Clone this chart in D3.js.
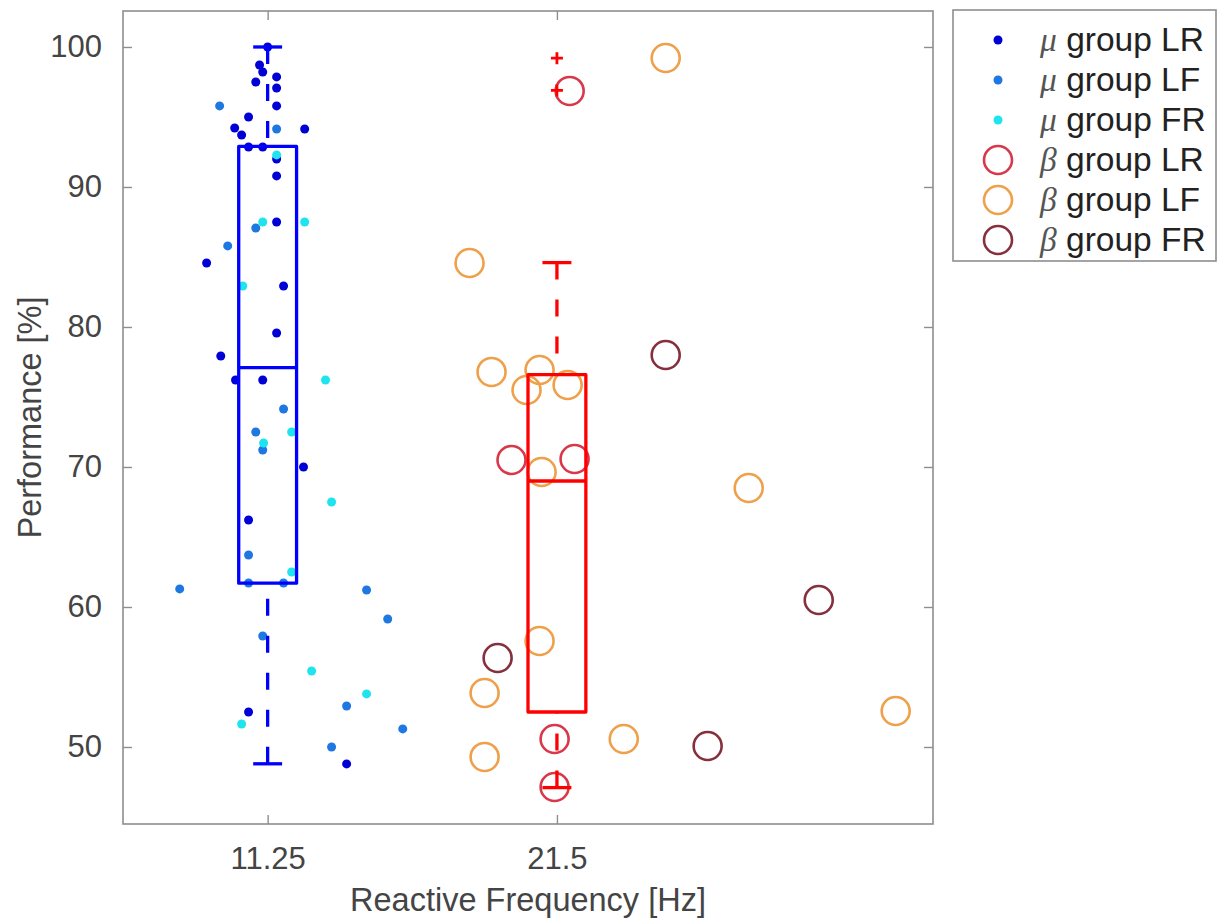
<!DOCTYPE html>
<html><head><meta charset="utf-8">
<script src="https://cdn.jsdelivr.net/npm/d3@7"></script>
<style>body{margin:0;background:#fff}</style>
</head><body><svg id="c" width="1226" height="918"></svg>
<script>
// ---------- data ----------
const categories = ["11.25", "21.5"];
const catPositions = [1, 2];
const yTicks = [50, 60, 70, 80, 90, 100];

// [x position in category units (jittered), performance %]
const muLR = [[1.0,100],[0.972,98.71],[0.983,98.21],[0.959,97.5],[1.031,97.86],[1.031,97.07],[1.031,95.79],
  [0.934,95.0],[0.886,94.21],[0.910,93.71],[1.128,94.14],[0.934,92.86],[0.983,92.86],[1.031,92.0],
  [1.031,90.79],[1.031,87.5],[0.789,84.57],[1.055,82.93],[1.031,79.57],[0.838,77.93],[0.889,76.21],
  [0.983,76.21],[1.124,70.0],[0.934,66.21],[0.934,52.5],[1.273,48.79]];
const muLF = [[0.834,95.79],[1.031,94.14],[0.862,85.79],[0.959,87.07],[1.055,74.14],[0.959,72.5],
  [0.983,71.21],[0.934,63.71],[0.934,61.71],[1.055,61.71],[0.696,61.29],[1.342,61.21],[1.415,59.14],
  [0.983,57.93],[1.273,52.93],[1.467,51.29],[1.221,50.0]];
const muFR = [[0.983,87.5],[1.128,87.5],[1.031,92.29],[0.914,82.93],[1.200,76.21],[1.083,72.5],
  [0.986,71.71],[1.221,67.5],[1.083,62.5],[1.152,55.43],[1.342,53.79],[0.910,51.64]];
const betaLR = [[2.044,96.86],[1.843,70.5],[2.061,70.57],[1.992,50.57],[1.992,47.14]];
const betaLF = [[2.376,99.21],[1.698,84.57],[1.774,76.79],[1.940,76.93],[2.037,75.86],[1.895,75.5],
  [1.947,69.64],[2.663,68.5],[1.940,57.57],[1.750,53.86],[3.171,52.57],[2.231,50.57],[1.750,49.29]];
const betaFR = [[2.376,78.0],[2.905,60.5],[1.795,56.36],[2.521,50.07]];

// box statistics: [lower whisker, q1, median, q3, upper whisker]
const boxMu = [48.8, 61.7, 77.1, 92.9, 100];
const boxBeta = [47.1, 52.5, 69.0, 76.6, 84.6];
const outliersMu = [];
const outliersBeta = [99.2, 96.9];

const legendSymbols = ["\u03bc", "\u03bc", "\u03bc", "\u03b2", "\u03b2", "\u03b2"];
const legendLabels = [" group LR", " group LF", " group FR", " group LR", " group LF", " group FR"];

// ---------- layout ----------
const M = {left: 123, right: 933, top: 11, bottom: 824};
const svg = d3.select("#c");
const x = d3.scaleLinear().domain([0.5, 3.3]).range([M.left, M.right]);
const y = d3.scaleLinear().domain([44.5, 102.57]).range([M.bottom, M.top]);

const axisColor = "#8e8e8e", labelColor = "#444";
const font = "'Liberation Sans', Arial, Helvetica, sans-serif";
const colMuLR = "#0000d6", colMuLF = "#1f78e2", colMuFR = "#1fe4ef";
const colBLR = "#d8384a", colBLF = "#eea04a", colBFR = "#87303d";

// frame
svg.append("rect").attr("x", M.left).attr("y", M.top)
  .attr("width", M.right - M.left).attr("height", M.bottom - M.top)
  .attr("fill", "#fff").attr("stroke", axisColor).attr("stroke-width", 1.6);

// axes with inward ticks
const tl = 9;
const yAx = d3.axisLeft(y).tickValues(yTicks).tickSizeInner(-tl).tickSizeOuter(0).tickPadding(tl + 12);
const gy = svg.append("g").attr("transform", `translate(${M.left},0)`).call(yAx);
const yAxR = d3.axisRight(y).tickValues(yTicks).tickSizeInner(-tl).tickSizeOuter(0).tickFormat("");
const gyr = svg.append("g").attr("transform", `translate(${M.right},0)`).call(yAxR);
const xAx = d3.axisBottom(x).tickValues(catPositions).tickFormat((d, i) => categories[i])
  .tickSizeInner(-tl).tickSizeOuter(0).tickPadding(tl + 14);
const gx = svg.append("g").attr("transform", `translate(0,${M.bottom})`).call(xAx);
const xAxT = d3.axisTop(x).tickValues(catPositions).tickSizeInner(-tl).tickSizeOuter(0).tickFormat("");
const gxt = svg.append("g").attr("transform", `translate(0,${M.top})`).call(xAxT);
[gy, gyr, gx, gxt].forEach(g => {
  g.select(".domain").remove();
  g.selectAll(".tick line").attr("stroke", axisColor).attr("stroke-width", 1.4);
  g.selectAll(".tick text").attr("fill", labelColor).style("font-family", font).style("font-size", "31px");
});

// axis labels
svg.append("text").attr("x", (M.left + M.right) / 2).attr("y", 911)
  .attr("text-anchor", "middle").attr("fill", labelColor)
  .style("font-family", font).style("font-size", "32.5px").text("Reactive Frequency [Hz]");
svg.append("text").attr("transform", `translate(41,${(M.top + M.bottom) / 2}) rotate(-90)`)
  .attr("text-anchor", "middle").attr("fill", labelColor)
  .style("font-family", font).style("font-size", "32.5px").text("Performance [%]");

const plot = svg.append("g");

// scatter points
function dots(data, col) {
  plot.append("g").selectAll("circle").data(data).join("circle")
    .attr("cx", d => x(d[0])).attr("cy", d => y(d[1])).attr("r", 4.5).attr("fill", col);
}
dots(muLR, colMuLR); dots(muLF, colMuLF); dots(muFR, colMuFR);
function rings(data, col) {
  plot.append("g").selectAll("circle").data(data).join("circle")
    .attr("cx", d => x(d[0])).attr("cy", d => y(d[1])).attr("r", 14)
    .attr("fill", "none").attr("stroke", col).attr("stroke-width", 2.6);
}
rings(betaLR, colBLR); rings(betaLF, colBLF); rings(betaFR, colBFR);

// boxplots
const boxW = 0.2, capW = 0.1;
function box(pos, s, outl, col) {
  const g = plot.append("g").attr("stroke", col).attr("stroke-width", 3.3).attr("fill", "none");
  g.append("line").attr("x1", x(pos)).attr("x2", x(pos)).attr("y1", y(s[4])).attr("y2", y(s[3]))
    .attr("stroke-dasharray", "17,20");
  g.append("line").attr("x1", x(pos)).attr("x2", x(pos)).attr("y1", y(s[0])).attr("y2", y(s[1]))
    .attr("stroke-dasharray", "17,20");
  [s[0], s[4]].forEach(v => g.append("line")
    .attr("x1", x(pos - capW / 2)).attr("x2", x(pos + capW / 2)).attr("y1", y(v)).attr("y2", y(v)));
  g.append("rect").attr("x", x(pos - boxW / 2)).attr("y", y(s[3]))
    .attr("width", x(pos + boxW / 2) - x(pos - boxW / 2)).attr("height", y(s[1]) - y(s[3]))
    .attr("stroke-linejoin", "round");
  g.append("line").attr("x1", x(pos - boxW / 2)).attr("x2", x(pos + boxW / 2))
    .attr("y1", y(s[2])).attr("y2", y(s[2]));
  outl.forEach(v => {
    const cx = x(pos), cy = y(v), h = 6;
    g.append("path").attr("d", `M${cx - h},${cy}H${cx + h}M${cx},${cy - h}V${cy + h}`).attr("stroke-width", 2.8);
  });
}
box(catPositions[0], boxMu, outliersMu, "#0000ff");
box(catPositions[1], boxBeta, outliersBeta, "#ff0000");

// legend
const lg = svg.append("g");
lg.append("rect").attr("x", 953).attr("y", 10).attr("width", 263).attr("height", 251)
  .attr("fill", "#fff").attr("stroke", axisColor).attr("stroke-width", 1.6);
const rowY = d3.scalePoint().domain(d3.range(6)).range([40, 240]);
const legCols = [colMuLR, colMuLF, colMuFR, colBLR, colBLF, colBFR];
legendLabels.forEach((lab, i) => {
  const cy = rowY(i);
  if (i < 3) lg.append("circle").attr("cx", 998).attr("cy", cy).attr("r", 4.5).attr("fill", legCols[i]);
  else lg.append("circle").attr("cx", 998).attr("cy", cy).attr("r", 14).attr("fill", "none")
    .attr("stroke", legCols[i]).attr("stroke-width", 2.6);
  const t = lg.append("text").attr("x", 1040).attr("y", cy + 11).attr("fill", "#222")
    .style("font-family", font).style("font-size", "33.5px");
  t.append("tspan").style("font-family", "'Liberation Serif', 'DejaVu Serif', serif")
    .style("font-style", "italic").attr("fill", "#555").text(legendSymbols[i]);
  t.append("tspan").text(lab);
});
</script>
</body></html>
